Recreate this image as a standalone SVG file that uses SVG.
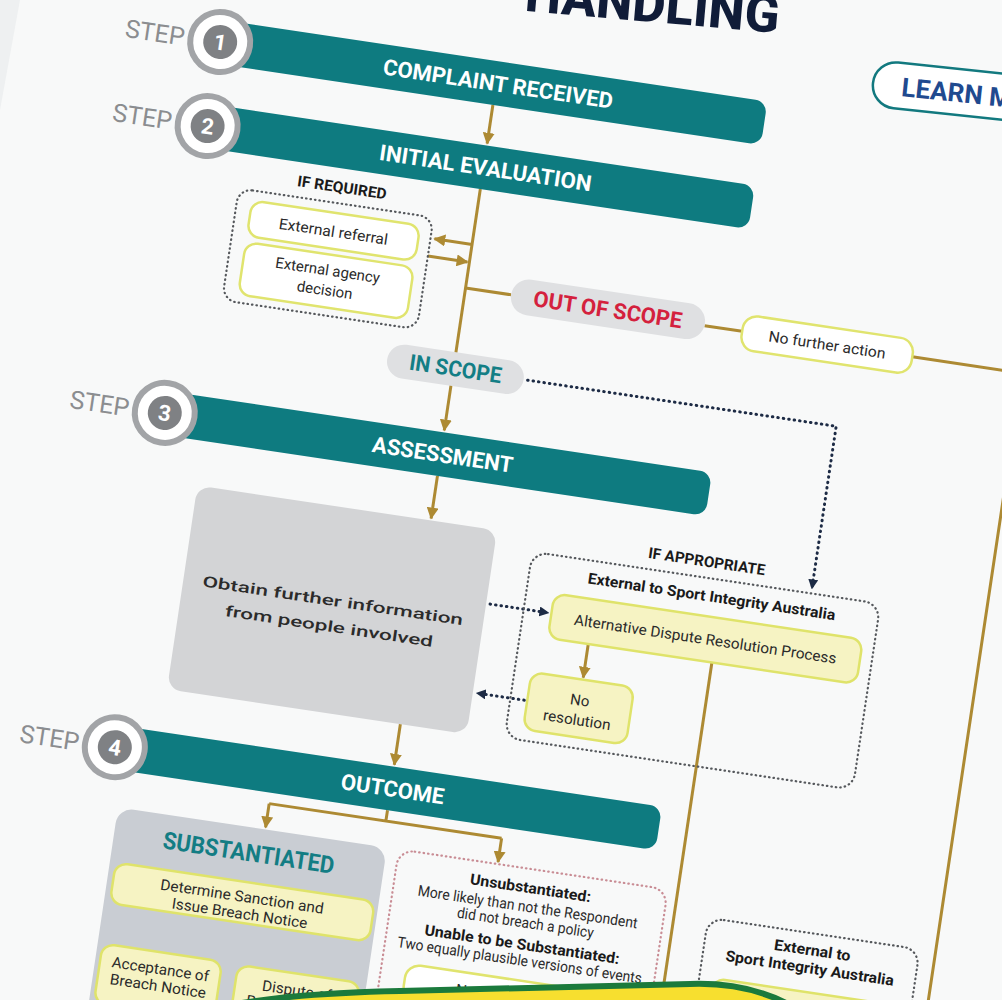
<svg xmlns="http://www.w3.org/2000/svg" width="1002" height="1000" viewBox="0 0 1002 1000">
<defs>
<marker id="ag" viewBox="0 0 10 10" refX="9" refY="5" markerWidth="12" markerHeight="12" markerUnits="userSpaceOnUse" orient="auto"><path d="M0,0 L10,5 L0,10 Z" fill="#ad8a33"/></marker>
<marker id="an" viewBox="0 0 10 10" refX="9" refY="5" markerWidth="10" markerHeight="10" markerUnits="userSpaceOnUse" orient="auto"><path d="M0,0 L10,5 L0,10 Z" fill="#1d2b45"/></marker>
</defs>
<style>
.bar{fill:#0e7b80}
.bt{font-family:Roboto,'Liberation Sans',sans-serif;font-weight:700;font-size:22px;fill:#fff;text-anchor:middle}
.step{font-family:Roboto,'Liberation Sans',sans-serif;font-size:25px;fill:#8b8d90;text-anchor:end}
.ring{fill:#fff;stroke:#a2a4a7;stroke-width:6}
.dot{fill:#7f8184}
.num{font-family:Roboto,'Liberation Sans',sans-serif;font-weight:700;font-size:22px;fill:#fff;text-anchor:middle}
.ln{fill:none;stroke:#ad8a33;stroke-width:3}
.dl{fill:none;stroke:#1d2b45;stroke-width:3;stroke-dasharray:0.5 5;stroke-linecap:round}
.db{fill:none;stroke:#55585c;stroke-width:2.2;stroke-dasharray:0.5 4;stroke-linecap:round}
.dp{fill:none;stroke:#c98d95;stroke-width:2.2;stroke-dasharray:0.5 4;stroke-linecap:round}
.yb{fill:#f6f3c3;stroke:#dfe36a;stroke-width:2.5}
.wb{fill:#fff;stroke:#e0e46e;stroke-width:2.5}
.pill{fill:#dfe0e2}
.t{font-family:Roboto,'Liberation Sans',sans-serif;font-size:15px;fill:#2b2b2b;text-anchor:middle}
.tb{font-family:Roboto,'Liberation Sans',sans-serif;font-size:15px;font-weight:700;fill:#1a1a1a;text-anchor:middle}
</style>
<rect x="0" y="0" width="1002" height="1000" fill="#f8f9f9"/>
<polygon points="0,0 20,0 0,110" fill="#eef0f1"/>

<g id="title" transform="translate(778,33) rotate(5)">
<text x="0" y="0" text-anchor="end" font-family="Roboto,'Liberation Sans',sans-serif" font-weight="800" font-size="52" fill="#101c38" textLength="255" lengthAdjust="spacingAndGlyphs">HANDLING</text>
</g>
<g id="learn-more" transform="translate(873,83) rotate(6)">
<rect x="0" y="-23" width="240" height="46" rx="23" fill="#fff" stroke="#12797f" stroke-width="2.5"/>
<text x="29" y="10" font-family="Roboto,'Liberation Sans',sans-serif" font-weight="700" font-size="26" fill="#1f4a8f" textLength="160" lengthAdjust="spacingAndGlyphs">LEARN MORE</text>
</g>

<g transform="rotate(8.5)">
<g id="connectors">
<path class="ln" d="M503,31 V70" marker-end="url(#ag)"/>
<path class="ln" d="M503,116 V360" marker-end="url(#ag)"/>
<path class="ln" d="M503,172 H465" marker-end="url(#ag)"/>
<path class="ln" d="M461,190 H501" marker-end="url(#ag)"/>
<path class="ln" d="M503,216 H549"/>
<path class="ln" d="M745,218 H783"/>
<path class="ln" d="M955,218 H1066 V1100"/>
<path class="ln" d="M503,406 V449" marker-end="url(#ag)"/>
<path class="ln" d="M503,657 V698" marker-end="url(#ag)"/>
<path class="ln" d="M503,744 V755 M385,755 H620"/>
<path class="ln" d="M385,755 V779" marker-end="url(#ag)"/>
<path class="ln" d="M620,755 V779" marker-end="url(#ag)"/>
<path class="ln" d="M372,820 V836"/>
<path class="ln" d="M372,877 V891 M306,891 H440"/>
<path class="ln" d="M306,891 V916" marker-end="url(#ag)"/>
<path class="ln" d="M440,891 V916" marker-end="url(#ag)"/>
<path class="ln" d="M677,550 V584" marker-end="url(#ag)"/>
<path class="ln" d="M802,550 V1100"/>
<path class="dl" d="M578,298 H890 V462" marker-end="url(#an)"/>
<path class="dl" d="M574,525 H633" marker-end="url(#an)"/>
<path class="dl" d="M622,615 H574" marker-end="url(#an)"/>
</g>

<g id="step1">
<rect class="bar" x="224" y="-13" width="550" height="44" rx="12"/>
<circle class="ring" cx="224" cy="9" r="30"/><circle class="dot" cx="224" cy="9" r="17"/>
<text class="num" x="224" y="17">1</text>
<text class="step" x="188" y="18">STEP</text>
<text class="bt" x="505" y="17" textLength="232" lengthAdjust="spacingAndGlyphs">COMPLAINT RECEIVED</text>
</g>
<g id="step2">
<rect class="bar" x="224" y="72" width="550" height="44" rx="12"/>
<circle class="ring" cx="224" cy="94" r="30"/><circle class="dot" cx="224" cy="94" r="17"/>
<text class="num" x="224" y="102">2</text>
<text class="step" x="188" y="103">STEP</text>
<text class="bt" x="505" y="102" textLength="214" lengthAdjust="spacingAndGlyphs">INITIAL EVALUATION</text>
</g>
<g id="step3">
<rect class="bar" x="224" y="362" width="550" height="44" rx="12"/>
<circle class="ring" cx="224" cy="384" r="30"/><circle class="dot" cx="224" cy="384" r="17"/>
<text class="num" x="224" y="392">3</text>
<text class="step" x="188" y="393">STEP</text>
<text class="bt" x="505" y="392" textLength="142" lengthAdjust="spacingAndGlyphs">ASSESSMENT</text>
</g>
<g id="step4">
<rect class="bar" x="224" y="700" width="550" height="44" rx="12"/>
<circle class="ring" cx="224" cy="722" r="30"/><circle class="dot" cx="224" cy="722" r="17"/>
<text class="num" x="224" y="730">4</text>
<text class="step" x="188" y="731">STEP</text>
<text class="bt" x="505" y="730" textLength="104" lengthAdjust="spacingAndGlyphs">OUTCOME</text>
</g>

<g id="if-required">
<text class="tb" x="366" y="140" font-size="14" textLength="90" lengthAdjust="spacingAndGlyphs">IF REQUIRED</text>
<rect class="db" x="264" y="151" width="197" height="113" rx="14"/>
</g>
<g id="external-referral">
<rect class="wb" x="279" y="161" width="170" height="36" rx="12"/>
<text class="t" x="364" y="185" textLength="110" lengthAdjust="spacingAndGlyphs">External referral</text>
</g>
<g id="external-agency">
<rect class="wb" x="279" y="203" width="170" height="53" rx="12"/>
<text class="t" x="364" y="224">External agency</text>
<text class="t" x="364" y="244">decision</text>
</g>
<g id="out-of-scope">
<rect class="pill" x="549" y="198" width="196" height="36" rx="18"/>
<text x="647" y="224" text-anchor="middle" font-family="Roboto,'Liberation Sans',sans-serif" font-weight="700" font-size="22" fill="#d4213d" textLength="150" lengthAdjust="spacingAndGlyphs">OUT OF SCOPE</text>
</g>
<g id="no-further-action-1">
<rect class="wb" x="783" y="201" width="172" height="35" rx="14"/>
<text class="t" x="869" y="224" textLength="118" lengthAdjust="spacingAndGlyphs">No further action</text>
</g>
<g id="in-scope">
<rect class="pill" x="436" y="281" width="138" height="34" rx="17"/>
<text x="505" y="305" text-anchor="middle" font-family="Roboto,'Liberation Sans',sans-serif" font-weight="700" font-size="22" fill="#137e85" textLength="93" lengthAdjust="spacingAndGlyphs">IN SCOPE</text>
</g>
<g id="obtain-info">
<rect x="267" y="451" width="303" height="206" rx="14" fill="#d3d4d6"/>
<text class="t" x="418" y="550" font-size="24" font-weight="500" fill="#1a1a1a" textLength="263" lengthAdjust="spacingAndGlyphs">Obtain further information</text>
<text class="t" x="418" y="576" font-size="24" font-weight="500" fill="#1a1a1a" textLength="210" lengthAdjust="spacingAndGlyphs">from people involved</text>
</g>
<g id="if-appropriate">
<text class="tb" x="782" y="456" textLength="118" lengthAdjust="spacingAndGlyphs">IF APPROPRIATE</text>
<rect class="db" x="608" y="467" width="352" height="188" rx="16"/>
<text class="tb" x="792" y="490" textLength="250" lengthAdjust="spacingAndGlyphs">External to Sport Integrity Australia</text>
</g>
<g id="adr">
<rect class="yb" x="636" y="505" width="312" height="45" rx="12"/>
<text class="t" x="792" y="533" font-size="17" textLength="265" lengthAdjust="spacingAndGlyphs">Alternative Dispute Resolution Process</text>
</g>
<g id="no-resolution">
<rect class="yb" x="625" y="586" width="104" height="58" rx="12"/>
<text class="t" x="677" y="612">No</text>
<text class="t" x="677" y="632" textLength="68" lengthAdjust="spacingAndGlyphs">resolution</text>
</g>
<g id="substantiated">
<rect x="236" y="781" width="272" height="300" rx="16" fill="#c9cdd3"/>
<text x="372" y="815" text-anchor="middle" font-family="Roboto,'Liberation Sans',sans-serif" font-weight="700" font-size="24" fill="#137d84" textLength="173" lengthAdjust="spacingAndGlyphs">SUBSTANTIATED</text>
</g>
<g id="determine-sanction">
<rect class="yb" x="242" y="836" width="262" height="41" rx="12"/>
<text class="t" x="372" y="856" textLength="165" lengthAdjust="spacingAndGlyphs">Determine Sanction and</text>
<text class="t" x="372" y="873" textLength="137" lengthAdjust="spacingAndGlyphs">Issue Breach Notice</text>
</g>
<g id="acceptance">
<rect class="yb" x="241" y="918" width="121" height="60" rx="12"/>
<text class="t" x="302" y="940" textLength="98" lengthAdjust="spacingAndGlyphs">Acceptance of</text>
<text class="t" x="302" y="957" textLength="97" lengthAdjust="spacingAndGlyphs">Breach Notice</text>
</g>
<g id="dispute">
<rect class="yb" x="378" y="919" width="124" height="60" rx="12"/>
<text class="t" x="440" y="941" textLength="70" lengthAdjust="spacingAndGlyphs">Dispute of</text>
<text class="t" x="440" y="958" textLength="97" lengthAdjust="spacingAndGlyphs">Breach Notice</text>
</g>
<g id="unsubstantiated">
<rect class="dp" x="520" y="781" width="272" height="250" rx="16"/>
<text class="tb" x="656" y="805" font-size="17" textLength="122" lengthAdjust="spacingAndGlyphs">Unsubstantiated:</text>
<text class="t" x="656" y="824" textLength="222" lengthAdjust="spacingAndGlyphs">More likely than not the Respondent</text>
<text class="t" x="656" y="840" textLength="138" lengthAdjust="spacingAndGlyphs">did not breach a policy</text>
<text class="tb" x="656" y="862" font-size="17" textLength="197" lengthAdjust="spacingAndGlyphs">Unable to be Substantiated:</text>
<text class="t" x="656" y="878" textLength="247" lengthAdjust="spacingAndGlyphs">Two equally plausible versions of events</text>
</g>
<g id="no-further-action-2">
<rect class="wb" x="545" y="893" width="223" height="36" rx="14"/>
<text class="t" x="656" y="916" textLength="118" lengthAdjust="spacingAndGlyphs">No further action</text>
</g>
<g id="external-sia">
<rect class="db" x="836" y="803" width="214" height="200" rx="16"/>
<text class="tb" x="944" y="825" font-size="16" textLength="77" lengthAdjust="spacingAndGlyphs">External to</text>
<text class="tb" x="944" y="843" font-size="16" textLength="170" lengthAdjust="spacingAndGlyphs">Sport Integrity Australia</text>
<rect class="yb" x="850" y="862" width="186" height="40" rx="12"/>
</g>
</g>

<path id="banner" d="M236,1004 Q300,993 400,991 L690,984 Q745,982 788,1004 Z" fill="#f7df2f" stroke="#1b7a3c" stroke-width="6"/>
</svg>
